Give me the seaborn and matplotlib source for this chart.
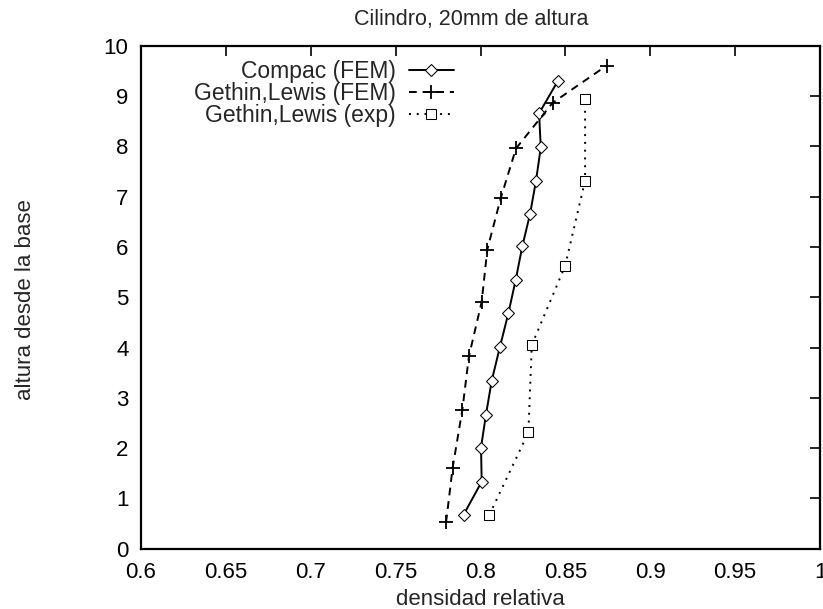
"""
Cilindro, 20mm de altura: densidad relativa vs altura desde la base
"""

import matplotlib
matplotlib.use("Agg")
import matplotlib.pyplot as plt
import seaborn as sns
import pandas as pd

# Compac (FEM)
compac_dens = [0.790, 0.8007, 0.8003, 0.8032, 0.8066, 0.8115, 0.8164,
               0.8207, 0.8246, 0.8292, 0.8327, 0.8355, 0.8345, 0.8455]
compac_alt = [0.67, 1.33, 2.01, 2.66, 3.34, 4.02, 4.68,
              5.34, 6.01, 6.66, 7.32, 7.98, 8.66, 9.30]

# Gethin, Lewis (FEM)
gl_fem_dens = [0.7797, 0.7836, 0.7893, 0.7932, 0.8007, 0.8040,
               0.8119, 0.8209, 0.8425, 0.8743]
gl_fem_alt = [0.52, 1.61, 2.76, 3.83, 4.91, 5.95, 6.97, 7.96, 8.87, 9.61]

# Gethin, Lewis (exp)
gl_exp_dens = [0.8052, 0.8282, 0.8302, 0.8498, 0.8616, 0.8616]
gl_exp_alt = [0.67, 2.31, 4.05, 5.62, 7.32, 8.94]

x_ticks = [0.6, 0.65, 0.7, 0.75, 0.8, 0.85, 0.9, 0.95, 1.0]
x_tick_labels = ["0.6", "0.65", "0.7", "0.75", "0.8", "0.85", "0.9", "0.95", "1"]
y_ticks = list(range(0, 11))

sns.set_style("white")
plt.rcParams["font.family"] = ["Liberation Sans", "DejaVu Sans"]

fig = plt.figure(figsize=(8.23, 6.09), dpi=100)
ax = fig.add_axes([0.1713, 0.0993, 0.8251, 0.8252])

series = [
    ("Compac (FEM)", compac_dens, compac_alt,
     dict(linestyle="-", marker="D", markersize=6.5, markerfacecolor="white")),
    ("Gethin,Lewis (FEM)", gl_fem_dens, gl_fem_alt,
     dict(linestyle=(0, (4, 3)), marker="+", markersize=10, markeredgewidth=1.3)),
    ("Gethin,Lewis (exp)", gl_exp_dens, gl_exp_alt,
     dict(linestyle=(0, (1, 3)), marker="s", markersize=7, markerfacecolor="white")),
]

for name, dens, alt, style in series:
    df = pd.DataFrame({"densidad": dens, "altura": alt})
    sns.lineplot(data=df, x="densidad", y="altura", sort=False, estimator=None,
                 color="black", linewidth=1.4, markeredgecolor="black",
                 label=name, ax=ax, **style)

ax.set_xlim(0.6, 1.0)
ax.set_ylim(0, 10)
ax.set_xticks(x_ticks)
ax.set_xticklabels(x_tick_labels)
ax.set_yticks(y_ticks)
ax.tick_params(direction="in", length=7, width=1.2, top=True, right=True,
               labelsize=16, colors="black")
ax.tick_params(axis="x", pad=10)
ax.tick_params(axis="y", pad=9)

for sp in ax.spines.values():
    sp.set_color("black")
    sp.set_linewidth(1.6)

ax.set_title("Cilindro, 20mm de altura", fontsize=15.5, x=0.487, pad=15)
ax.set_xlabel("densidad relativa", fontsize=16)
ax.set_ylabel("altura desde la base", fontsize=16)
ax.xaxis.set_label_coords(0.5, -0.08)
ax.yaxis.set_label_coords(-0.155, 0.495)

leg = ax.legend(loc="upper right", bbox_to_anchor=(0.475, 0.99), frameon=False,
                markerfirst=False, fontsize=16.5, handlelength=2.0,
                handletextpad=0.55, labelspacing=-0.05, borderaxespad=0)

plt.savefig("out.png", dpi=100)
plt.close()
